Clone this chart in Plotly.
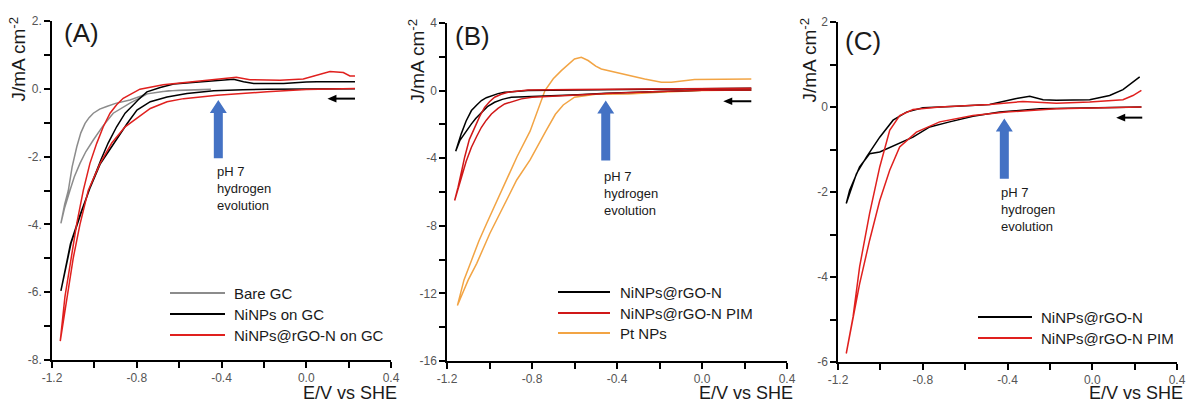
import plotly.graph_objects as go

W, H = 1190, 405

# ---------------- Panel A data (E / V vs SHE, J / mA cm-2) ----------------
A_bare_E_fwd = [-0.45, -0.55, -0.65, -0.75, -0.832, -0.911, -0.96, -1.005, -1.04, -1.068, -1.095, -1.115, -1.14, -1.158]
A_bare_J_fwd = [-0.02, -0.03, -0.06, -0.15, -0.42, -0.72, -1.1, -1.51, -1.85, -2.2, -2.6, -2.99, -3.5, -3.97]
A_bare_E_ret = [-1.158, -1.14, -1.123, -1.105, -1.083, -1.064, -1.044, -1.025, -1.005, -0.975, -0.942, -0.9, -0.832, -0.753, -0.676, -0.6, -0.45]
A_bare_J_ret = [-3.97, -3.4, -3.0, -2.3, -1.71, -1.3, -1.02, -0.85, -0.72, -0.6, -0.52, -0.43, -0.33, -0.15, -0.08, -0.04, -0.01]

A_ni_E_fwd = [0.23, 0.0, -0.185, -0.3, -0.437, -0.563, -0.657, -0.736, -0.799, -0.846, -0.909, -0.972, -1.019, -1.066, -1.113, -1.158]
A_ni_J_fwd = [0.0, 0.0, -0.01, -0.03, -0.06, -0.14, -0.24, -0.38, -0.63, -1.03, -1.62, -2.21, -2.9, -3.69, -4.58, -5.96]
A_ni_E_ret = [-1.158, -1.11, -1.062, -1.015, -0.968, -0.935, -0.895, -0.855, -0.82, -0.794, -0.752, -0.689, -0.626, -0.5, -0.4, -0.343, -0.296, -0.248, -0.15, -0.107, 0.0, 0.05, 0.23]
A_ni_J_ret = [-5.96, -4.55, -3.65, -2.82, -2.08, -1.6, -1.12, -0.72, -0.5, -0.33, -0.09, 0.04, 0.14, 0.2, 0.26, 0.28, 0.21, 0.16, 0.16, 0.16, 0.2, 0.21, 0.21]

A_rgo_E_fwd = [0.23, 0.0, -0.185, -0.421, -0.579, -0.657, -0.736, -0.815, -0.855, -0.918, -0.973, -1.029, -1.068, -1.1, -1.13, -1.161]
A_rgo_J_fwd = [0.01, -0.02, -0.09, -0.19, -0.29, -0.38, -0.58, -0.93, -1.12, -1.6, -2.2, -3.0, -4.0, -5.0, -6.2, -7.44]
A_rgo_E_ret = [-1.161, -1.139, -1.115, -1.083, -1.052, -1.021, -0.989, -0.958, -0.926, -0.895, -0.864, -0.785, -0.675, -0.517, -0.36, -0.33, -0.266, -0.124, -0.014, 0.049, 0.112, 0.175, 0.206, 0.23]
A_rgo_J_ret = [-7.44, -6.14, -5.26, -3.97, -2.99, -2.2, -1.61, -1.12, -0.72, -0.47, -0.28, -0.01, 0.12, 0.22, 0.32, 0.34, 0.27, 0.25, 0.29, 0.41, 0.51, 0.48, 0.38, 0.38]

# ---------------- Panel B data ----------------
B_ni_E_fwd = [0.232, 0.0, -0.2, -0.348, -0.45, -0.584, -0.68, -0.772, -0.85, -0.897, -0.94, -0.976, -1.01, -1.038, -1.065, -1.085, -1.115, -1.14, -1.159]
B_ni_J_fwd = [0.04, 0.02, -0.05, -0.1, -0.15, -0.24, -0.28, -0.3, -0.35, -0.39, -0.52, -0.69, -0.95, -1.28, -1.65, -1.97, -2.5, -2.96, -3.59]
B_ni_E_ret = [-1.159, -1.133, -1.11, -1.085, -1.06, -1.038, -1.015, -0.991, -0.96, -0.929, -0.88, -0.819, -0.6, -0.3, 0.0, 0.232]
B_ni_J_ret = [-3.59, -2.56, -1.8, -1.18, -0.85, -0.59, -0.42, -0.3, -0.18, -0.1, -0.04, 0.0, 0.03, 0.06, 0.1, 0.14]

B_pim_E_fwd = [0.232, 0.0, -0.2, -0.348, -0.45, -0.584, -0.74, -0.8, -0.85, -0.89, -0.929, -0.96, -0.991, -1.015, -1.038, -1.06, -1.085, -1.11, -1.133, -1.15, -1.164]
B_pim_J_fwd = [0.04, 0.02, -0.05, -0.1, -0.17, -0.26, -0.34, -0.4, -0.49, -0.62, -0.79, -1.05, -1.38, -1.75, -2.17, -2.7, -3.35, -4.2, -5.13, -5.8, -6.5]
B_pim_E_ret = [-1.164, -1.148, -1.13, -1.117, -1.095, -1.07, -1.045, -1.023, -1.0, -0.976, -0.945, -0.913, -0.87, -0.819, -0.6, -0.3, 0.0, 0.232]
B_pim_J_ret = [-6.5, -5.72, -4.7, -3.94, -2.9, -2.17, -1.5, -0.99, -0.66, -0.39, -0.22, -0.1, -0.03, 0.04, 0.06, 0.08, 0.11, 0.14]

B_pt_E_fwd = [0.232, 0.0, -0.2, -0.348, -0.5, -0.6, -0.653, -0.69, -0.735, -0.809, -0.872, -0.935, -0.998, -1.06, -1.1, -1.151]
B_pt_J_fwd = [0.04, 0.0, -0.1, -0.2, -0.22, -0.39, -0.85, -1.4, -2.4, -4.1, -5.29, -6.87, -8.44, -10.22, -11.2, -12.72]
B_pt_E_ret = [-1.151, -1.12, -1.084, -1.05, -1.013, -0.965, -0.919, -0.87, -0.809, -0.775, -0.739, -0.7, -0.662, -0.6, -0.568, -0.536, -0.5, -0.474, -0.38, -0.27, -0.191, -0.144, -0.035, 0.232]
B_pt_J_ret = [-12.72, -11.2, -10.02, -8.9, -7.85, -6.5, -5.29, -3.9, -2.4, -1.2, 0.0, 0.7, 1.18, 1.87, 1.97, 1.78, 1.45, 1.28, 0.99, 0.69, 0.49, 0.49, 0.65, 0.69]

# ---------------- Panel C data ----------------
C_ni_E_fwd = [0.232, -0.248, -0.437, -0.563, -0.673, -0.767, -0.846, -0.909, -0.956, -1.003, -1.051, -1.098, -1.145, -1.161]
C_ni_J_fwd = [0.0, -0.04, -0.12, -0.22, -0.35, -0.47, -0.71, -0.85, -0.94, -1.06, -1.1, -1.41, -1.96, -2.27]
C_ni_E_ret = [-1.161, -1.113, -1.066, -1.003, -0.94, -0.877, -0.799, -0.641, -0.484, -0.358, -0.295, -0.232, -0.169, -0.012, 0.082, 0.145, 0.224]
C_ni_J_ret = [-2.27, -1.57, -1.18, -0.71, -0.31, -0.12, -0.02, 0.02, 0.06, 0.2, 0.25, 0.17, 0.16, 0.17, 0.27, 0.41, 0.71]

C_pim_E_fwd = [0.232, -0.169, -0.406, -0.563, -0.72, -0.83, -0.909, -0.956, -1.003, -1.051, -1.098, -1.145, -1.161]
C_pim_J_fwd = [0.0, -0.04, -0.12, -0.2, -0.35, -0.59, -0.94, -1.49, -2.2, -3.14, -4.16, -5.33, -5.8]
C_pim_E_ret = [-1.161, -1.129, -1.098, -1.051, -1.003, -0.956, -0.909, -0.846, -0.72, -0.484, -0.327, -0.169, -0.012, 0.145, 0.192, 0.232]
C_pim_J_ret = [-5.8, -4.94, -3.76, -2.51, -1.41, -0.55, -0.2, -0.06, 0.0, 0.06, 0.13, 0.09, 0.12, 0.17, 0.27, 0.39]

# labels
A_names = ["Bare GC", "NiNPs on GC", "NiNPs@rGO-N on GC"]
B_names = ["NiNPs@rGO-N", "NiNPs@rGO-N PIM", "Pt NPs"]
C_names = ["NiNPs@rGO-N", "NiNPs@rGO-N PIM"]
X_TICKS = [-1.2, -0.8, -0.4, 0.0, 0.4]
X_TEXT = ["-1.2", "-0.8", "-0.4", "0.0", "0.4"]
A_YTICKS = [2, 0, -2, -4, -6, -8]
A_YTEXT = ["2.", "0.", "-2.", "-4.", "-6.", "-8."]
B_YTICKS = [4, 0, -4, -8, -12, -16]
B_YTEXT = ["4", "0", "-4", "-8", "-12", "-16"]
C_YTICKS = [2, 0, -2, -4, -6]
C_YTEXT = ["2", "0", "-2", "-4", "-6"]

GRAY = "#8c8c8c"
BLACK = "#000000"
RED = "#e0201e"
DRED = "#d01818"
ORANGE = "#f2a444"
BLUE = "#4472c4"
FONT = "Liberation Sans, Arial, sans-serif"
TXT = "#1a1a1a"

def px(x):
    return x / W

def py(y):
    return 1 - y / H

fig = go.Figure()

def add(E1, J1, E2, J2, color, name, ax):
    fig.add_trace(go.Scatter(x=E1 + E2, y=J1 + J2, mode="lines", name=name,
                             line=dict(color=color, width=1.5),
                             xaxis="x" + ax, yaxis="y" + ax, showlegend=False))

add(A_bare_E_fwd, A_bare_J_fwd, A_bare_E_ret, A_bare_J_ret, GRAY, A_names[0], "")
add(A_ni_E_fwd, A_ni_J_fwd, A_ni_E_ret, A_ni_J_ret, BLACK, A_names[1], "")
add(A_rgo_E_fwd, A_rgo_J_fwd, A_rgo_E_ret, A_rgo_J_ret, RED, A_names[2], "")
add(B_pt_E_fwd, B_pt_J_fwd, B_pt_E_ret, B_pt_J_ret, ORANGE, B_names[2], "2")
add(B_ni_E_fwd, B_ni_J_fwd, B_ni_E_ret, B_ni_J_ret, BLACK, B_names[0], "2")
add(B_pim_E_fwd, B_pim_J_fwd, B_pim_E_ret, B_pim_J_ret, DRED, B_names[1], "2")
add(C_ni_E_fwd, C_ni_J_fwd, C_ni_E_ret, C_ni_J_ret, BLACK, C_names[0], "3")
add(C_pim_E_fwd, C_pim_J_fwd, C_pim_E_ret, C_pim_J_ret, RED, C_names[1], "3")

# panel geometry (pixels)
panels = {
    "": dict(x0=52, x1=391, y0=21, y1=360, yr=[-8, 2], yt=A_YTICKS, ytt=A_YTEXT, ym=1),
    "2": dict(x0=447, x1=787, y0=23, y1=361, yr=[-16, 4], yt=B_YTICKS, ytt=B_YTEXT, ym=2),
    "3": dict(x0=838, x1=1177, y0=22, y1=362, yr=[-6, 2], yt=C_YTICKS, ytt=C_YTEXT, ym=1),
}

axis_common = dict(showline=True, linecolor="black", linewidth=1.5, ticks="outside",
                   ticklen=6, tickwidth=1.5, tickcolor="black", showgrid=False,
                   zeroline=False, tickfont=dict(family=FONT, size=12, color="#555555"),
                   tickmode="array", automargin=False)
layout = {}
for k, p in panels.items():
    layout["xaxis" + k] = dict(axis_common, domain=[px(p["x0"]), px(p["x1"])], range=[-1.2, 0.4],
                               tickvals=X_TICKS, ticktext=X_TEXT, anchor="y" + k,
                               minor=dict(ticks="outside", dtick=0.2, tick0=0, ticklen=6,
                                          tickwidth=1.5, tickcolor="black", showgrid=False))
    layout["yaxis" + k] = dict(axis_common, domain=[py(p["y1"]), py(p["y0"])], range=p["yr"],
                               tickvals=p["yt"], ticktext=p["ytt"], anchor="x" + k,
                               minor=dict(ticks="outside", dtick=p["ym"], tick0=0, ticklen=6,
                                          tickwidth=1.5, tickcolor="black", showgrid=False))
fig.update_layout(**layout)

annotations = []
shapes = []

# axis titles and panel letters
for k, p, letter, lab_x, lab_y, yt_x in [("", panels[""], "(A)", 62, 33, 18),
                                          ("2", panels["2"], "(B)", 453, 36, 417),
                                          ("3", panels["3"], "(C)", 843, 41, 808)]:
    annotations.append(dict(text="J/mA cm<sup>-2</sup>", xref="paper", yref="paper",
                            x=px(yt_x), y=py(p["y0"] - 6), xanchor="center", yanchor="top",
                            textangle=-90, showarrow=False, font=dict(family=FONT, size=19, color=TXT)))
    annotations.append(dict(text="E/V vs SHE", xref="paper", yref="paper",
                            x=px(p["x1"] + 8), y=py(393), xanchor="right", yanchor="middle",
                            showarrow=False, font=dict(family=FONT, size=18, color=TXT)))
    annotations.append(dict(text=letter, xref="paper", yref="paper", x=px(lab_x), y=py(lab_y),
                            xanchor="left", yanchor="middle", showarrow=False,
                            font=dict(family=FONT, size=26, color=TXT)))

# blue arrows + text, black scan-direction arrows
arrows = [
    ("", -0.415, -2.05, -0.33, 211.9, 33.8, -0.431, -2.16, 0.23, 0.10, -0.29),
    ("2", -0.453, -4.14, -0.59, 212.5, 16.9, -0.472, -4.52, 0.232, 0.10, -0.63),
    ("3", -0.415, -1.69, -0.27, 211.9, 42.5, -0.439, -1.79, 0.236, 0.113, -0.25),
]
for k, xc, yb, ytip, sx, sy, tx, ty, bx0, bx1, by in arrows:
    hw = 4.5 / sx
    hh = 8.5 / sx
    hl = 13 / sy
    yh = ytip - hl
    path = (f"M {xc-hw},{yb} L {xc-hw},{yh} L {xc-hh},{yh} L {xc},{ytip} "
            f"L {xc+hh},{yh} L {xc+hw},{yh} L {xc+hw},{yb} Z")
    shapes.append(dict(type="path", path=path, xref="x" + k, yref="y" + k,
                       fillcolor=BLUE, line=dict(width=0)))
    annotations.append(dict(text="pH 7<br>hydrogen<br>evolution", xref="x" + k, yref="y" + k,
                            x=tx, y=ty, xanchor="left", yanchor="top", align="left",
                            showarrow=False, font=dict(family=FONT, size=13, color=TXT)))
    # black scan-direction arrow: shaft + triangular head
    bl = 9 / sx
    bh = 3.8 / sy
    shapes.append(dict(type="line", xref="x" + k, yref="y" + k, x0=bx0, x1=bx1 + bl * 0.8,
                       y0=by, y1=by, line=dict(color="black", width=2)))
    head = f"M {bx1},{by} L {bx1+bl},{by+bh} L {bx1+bl},{by-bh} Z"
    shapes.append(dict(type="path", path=head, xref="x" + k, yref="y" + k,
                       fillcolor="black", line=dict(width=0)))

# manual legends
legends = [
    (170, 225, 232, [293, 314, 335], A_names, [GRAY, BLACK, RED]),
    (558, 610, 618, [292, 313, 333], B_names, [BLACK, DRED, ORANGE]),
    (978, 1032, 1039, [317, 338], C_names, [BLACK, RED]),
]
for lx0, lx1, tx, ys, names, cols in legends:
    for yy, nm, c in zip(ys, names, cols):
        shapes.append(dict(type="line", xref="paper", yref="paper", x0=px(lx0), x1=px(lx1),
                           y0=py(yy), y1=py(yy), line=dict(color=c, width=1.8)))
        annotations.append(dict(text=nm, xref="paper", yref="paper", x=px(tx), y=py(yy),
                                xanchor="left", yanchor="middle", showarrow=False,
                                font=dict(family=FONT, size=15, color=TXT)))

fig.update_layout(width=W, height=H, margin=dict(l=0, r=0, t=0, b=0, autoexpand=False),
                  paper_bgcolor="white", plot_bgcolor="white",
                  annotations=annotations, shapes=shapes, showlegend=False)

fig.write_html("out.html", config={"displayModeBar": False},
               post_script="document.body.style.margin='0px';document.body.style.overflow='hidden';")
